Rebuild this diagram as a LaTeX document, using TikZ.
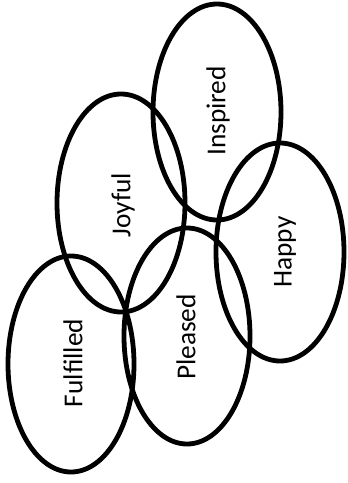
\documentclass[tikz,border=0pt]{standalone}
\usepackage{fontspec}
\setmainfont{Carlito}
\begin{document}
\begin{tikzpicture}[x=0.75pt,y=-0.75pt,
  ring/.style={draw=black,line width=3.6pt},
  lbl/.style={rotate=90,font=\fontsize{20.5}{24}\selectfont,inner sep=0pt}]
\useasboundingbox (0,0) rectangle (348,483);
\draw[ring] (217,112) ellipse [x radius=64, y radius=108];
\draw[ring] (121,203) ellipse [x radius=64, y radius=109];
\draw[ring] (280,252) ellipse [x radius=64, y radius=109];
\draw[ring] (187,336) ellipse [x radius=63, y radius=108];
\draw[ring] (71,364) ellipse [x radius=63, y radius=108];
\node[lbl] (inspired) at (218,111) {Inspired};
\node[lbl] (joyful) at (123,205) {Joyful};
\node[lbl] (happy) at (285,252) {Happy};
\node[lbl] (pleased) at (186,337) {Pleased};
\node[lbl] (fulfilled) at (73,363) {Fulfilled};
\end{tikzpicture}
\end{document}
